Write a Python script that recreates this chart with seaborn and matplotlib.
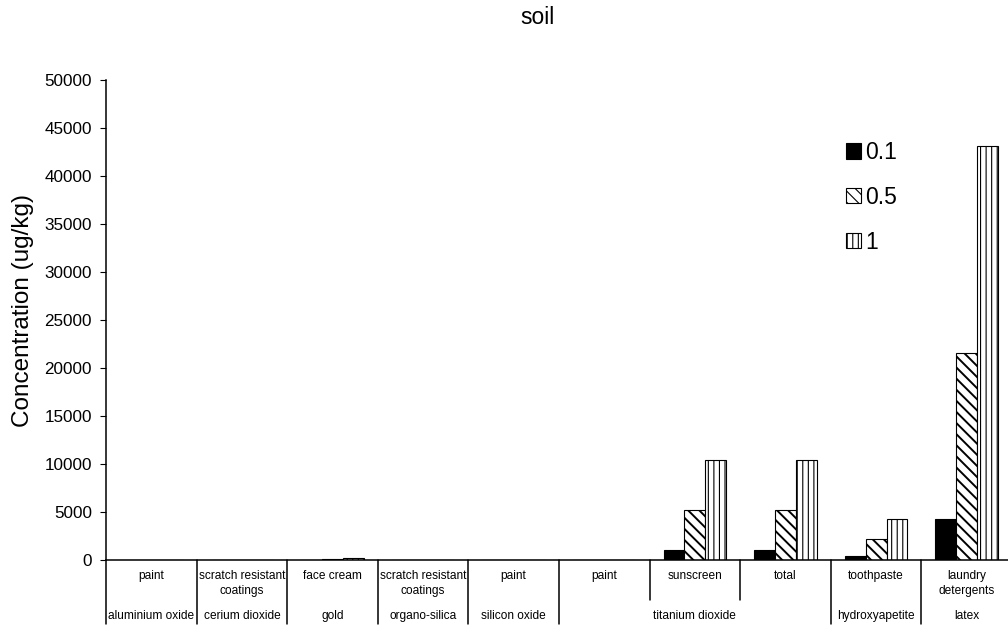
import numpy as np
import pandas as pd
import matplotlib
matplotlib.use("Agg")
import matplotlib.pyplot as plt
import matplotlib.transforms as mtransforms
from matplotlib.patches import Patch
import seaborn as sns

# ------------------- data -------------------
products = ["paint", "scratch resistant\ncoatings", "face cream", "scratch resistant\ncoatings",
            "paint", "paint", "sunscreen", "total", "toothpaste", "laundry\ndetergents"]
materials = ["aluminium oxide", "cerium dioxide", "gold", "organo-silica", "silicon oxide",
             "titanium dioxide", "titanium dioxide", "titanium dioxide", "hydroxyapetite", "latex"]
levels = ["0.1", "0.5", "1"]
conc_01 = [0, 0, 20, 0, 0, 0, 1040, 1040, 430, 4310]
conc_05 = [0, 0, 100, 0, 0, 0, 5200, 5200, 2150, 21550]
conc_1 = [0, 0, 200, 0, 0, 0, 10400, 10400, 4300, 43100]
yticks = [0, 5000, 10000, 15000, 20000, 25000, 30000, 35000, 40000, 45000, 50000]

keys = [f"{m} | {p}" for m, p in zip(materials, products)]
df = pd.DataFrame({
    "key": keys * 3,
    "level": np.repeat(levels, len(keys)),
    "value": conc_01 + conc_05 + conc_1,
})

# ------------------- style -------------------
sns.set_theme(style="ticks", rc={"axes.edgecolor": "black", "xtick.color": "black",
                                 "ytick.color": "black", "text.color": "black",
                                 "axes.labelcolor": "black"})
plt.rcParams["font.family"] = ["Liberation Sans", "DejaVu Sans"]
plt.rcParams["hatch.color"] = "black"
plt.rcParams["hatch.linewidth"] = 0.8

fig = plt.figure(figsize=(10.08, 6.29), dpi=100)
ax = fig.add_axes([106 / 1008, 69 / 629, 906 / 1008, 480 / 629])

sns.barplot(data=df, x="key", y="value", hue="level", order=keys, hue_order=levels,
            palette=["black", "white", "white"], saturation=1, edgecolor="black",
            linewidth=0.8, width=0.69, gap=0, errorbar=None, legend=False, ax=ax)

hatches = ["", "\\\\\\", "|||"]
hatch_lw = [0.8, 1.4, 0.8]
for cont, h, hl in zip(ax.containers, hatches, hatch_lw):
    for bar in cont:
        bar.set_hatch(h)
        if hasattr(bar, "set_hatch_linewidth"):
            bar.set_hatch_linewidth(hl)

ax.set_xlim(-0.5, len(keys) - 0.5)
ax.set_ylim(0, 50000)
ax.set_yticks(yticks)
ax.set_yticklabels([str(v) for v in yticks], fontsize=12.3)
ax.tick_params(axis="y", length=4.3, width=0.8, pad=5.8)
ax.set_xticks([])
ax.set_xlabel("")
ax.set_ylabel("Concentration (ug/kg)", fontsize=17.5)
ax.yaxis.set_label_coords(-0.079, 0.52)
for s in ["top", "right"]:
    ax.spines[s].set_visible(False)
ax.spines["left"].set_linewidth(1.1)
ax.spines["bottom"].set_linewidth(1.1)

fig.text(537 / 1008, 1 - 18 / 629, "soil", ha="center", va="center", fontsize=16.5)

# ------------------- two level category axis -------------------
trans = mtransforms.blended_transform_factory(ax.transData, ax.transAxes)
px = 1 / 480  # one pixel in axes fraction (vertical)
for i, p in enumerate(products):
    ax.text(i, -10 * px, p, transform=trans, ha="center", va="top",
            fontsize=8.6, linespacing=1.3)

start = 0
for i in range(1, len(materials) + 1):
    if i == len(materials) or materials[i] != materials[start]:
        ax.text((start + i - 1) / 2, -56 * px, materials[start], transform=trans,
                ha="center", va="center", fontsize=8.6)
        start = i

for i in range(len(materials)):
    long = i == 0 or materials[i] != materials[i - 1]
    y_end = -64 * px if long else -40 * px
    ax.plot([i - 0.5, i - 0.5], [0, y_end], transform=trans, color="black",
            lw=1.1, clip_on=False)

# ------------------- legend -------------------
handles = [Patch(facecolor=c, edgecolor="black", hatch=h, linewidth=0.8, label=l)
           for c, h, l in zip(["black", "white", "white"], hatches, levels)]
fig.legend(handles=handles, loc="upper left", bbox_to_anchor=(846 / 1008, 1 - 141 / 629),
           frameon=False, fontsize=16.5, handlelength=0.65, handleheight=0.65,
           handletextpad=0.2, labelspacing=0.95, borderpad=0, borderaxespad=0)

fig.savefig("out.png", dpi=100)
